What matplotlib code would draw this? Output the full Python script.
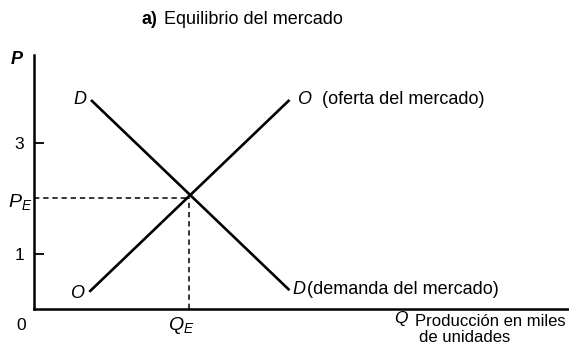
import matplotlib
matplotlib.use("Agg")
import matplotlib.pyplot as plt

# data (price units on y, quantity units on x)
supply_q = [1.0, 4.62]
supply_p = [0.31, 3.78]
demand_q = [1.03, 4.62]
demand_p = [3.78, 0.34]
q_e = 2.8
p_e = 2.0
y_ticks = [1, 3]
y_tick_labels = ["1", "3"]

plt.rcParams['font.family'] = ['Liberation Sans', 'DejaVu Sans']
plt.rcParams['mathtext.fontset'] = 'custom'
plt.rcParams['mathtext.rm'] = 'Liberation Sans'
plt.rcParams['mathtext.it'] = 'Liberation Sans:italic'

W, H = 569, 350
fig = plt.figure(figsize=(W/100, H/100), dpi=100)
x0, y0, x1, y1 = 34, 309, 568, 55
ax = fig.add_axes([x0/W, 1 - y0/H, (x1-x0)/W, (y0-y1)/H])
ymax = (y0-y1)/55.3
xmax = (x1-x0)/55.3
ax.set_xlim(0, xmax)
ax.set_ylim(0, ymax)
for s in ['top', 'right']:
    ax.spines[s].set_visible(False)
for s in ['left', 'bottom']:
    ax.spines[s].set_linewidth(1.8)
ax.set_xticks([])
ax.set_yticks(y_ticks)
ax.set_yticklabels(y_tick_labels, fontsize=12.5)
ax.tick_params(axis='y', direction='in', length=7, width=1.3, pad=7)

ax.plot(supply_q, supply_p, color='black', lw=1.9, solid_capstyle='butt')
ax.plot(demand_q, demand_p, color='black', lw=1.9, solid_capstyle='butt')
ax.plot([0, q_e], [p_e, p_e], color='black', lw=1.1, ls=(0, (3.5, 2.5)))
ax.plot([q_e, q_e], [0, p_e], color='black', lw=1.1, ls=(0, (3.5, 2.5)))

def T(x, y, s, **kw):
    fig.text(x/W, 1 - y/H, s, va='center', **kw)

FS = 13
T(142, 19, "a)", ha='left', fontsize=FS, weight='bold')
T(164, 19, "Equilibrio del mercado", ha='left', fontsize=FS)
T(17, 60, "P", ha='center', fontsize=FS, style='italic', weight='bold')
T(80, 100, "D", ha='center', fontsize=FS, style='italic')
T(304, 100, "O", ha='center', fontsize=FS, style='italic')
T(322, 100, "(oferta del mercado)", ha='left', fontsize=FS)
T(20, 202, "$P_E$", ha='center', fontsize=FS+1)
T(77, 293, "O", ha='center', fontsize=FS, style='italic')
T(299, 289, "D", ha='center', fontsize=FS, style='italic')
T(307, 289, "(demanda del mercado)", ha='left', fontsize=FS)
T(21, 325, "0", ha='center', fontsize=12.5)
T(181, 326, "$Q_E$", ha='center', fontsize=FS+1)
T(401, 319, "Q", ha='center', fontsize=12.5, style='italic')
T(415, 321, "Producción en miles", ha='left', fontsize=12)
T(419, 338, "de unidades", ha='left', fontsize=12)

fig.savefig("out.png", dpi=100)
